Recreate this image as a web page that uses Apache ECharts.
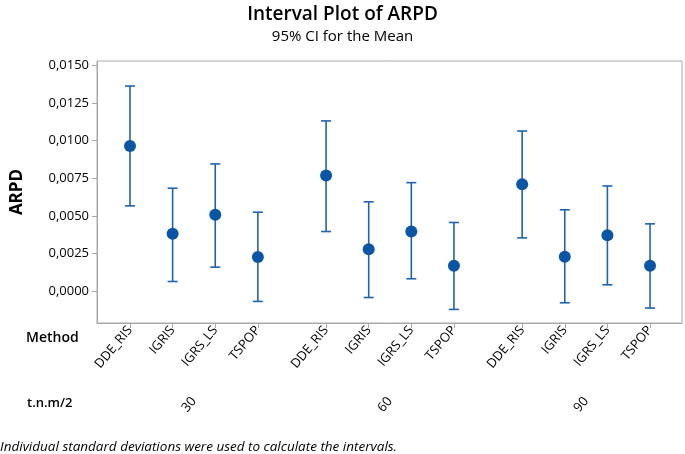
<!DOCTYPE html>
<html>
<head>
<meta charset="utf-8">
<script src="https://cdn.jsdelivr.net/npm/echarts@6/dist/echarts.min.js"></script>
<style>html,body{margin:0;padding:0;background:#fff}#c{width:685px;height:454px}</style>
</head>
<body>
<div id="c"></div>
<script>
// Data
var methods = ['DDE_RIS', 'IGRIS', 'IGRS_LS', 'TSPOP'];
var groups = ['30', '60', '90'];
// x positions of each method/group combination (axis units)
var positions = [0, 5, 10, 15, 23, 28, 33, 38, 46, 51, 56, 61];
var groupCenters = [7.5, 30.5, 53.5];
var means = [0.00964, 0.00382, 0.00508, 0.00228, 0.00768, 0.00280, 0.00397, 0.00170, 0.00711, 0.00230, 0.00373, 0.00170];
var lower = [0.00567, 0.00066, 0.00161, -0.00066, 0.00397, -0.00040, 0.00084, -0.00119, 0.00355, -0.00075, 0.00044, -0.00110];
var upper = [0.01361, 0.00684, 0.00845, 0.00525, 0.01130, 0.00594, 0.00721, 0.00457, 0.01063, 0.00541, 0.00699, 0.00448];
var yTicks = [0, 0.0025, 0.005, 0.0075, 0.01, 0.0125, 0.015];

var labelMap = {};
positions.forEach(function (p, i) { labelMap[p] = methods[i % 4]; });
var groupMap = {};
groupCenters.forEach(function (p, i) { groupMap[p] = groups[i]; });

var FONT = '"Open Sans", "Noto Sans", sans-serif';
var barColor = '#1f63ad';
var dotColor = '#0a56a5';

var chart = echarts.init(document.getElementById('c'), null, { renderer: 'canvas' });
chart.setOption({
  animation: false,
  backgroundColor: '#fff',
  textStyle: { fontFamily: FONT },
  title: [
    { text: 'Interval Plot of ARPD', left: 'center', top: 0,
      textStyle: { fontFamily: FONT, fontSize: 19, fontWeight: 600, color: '#000' } },
    { text: '95% CI for the Mean', left: 'center', top: 24,
      textStyle: { fontFamily: FONT, fontSize: 15, fontWeight: 'normal', color: '#000' } }
  ],
  grid: { left: 97, right: 3, top: 61, bottom: 131, show: true, borderColor: '#a8a8a8', borderWidth: 1, backgroundColor: '#fff' },
  xAxis: [
    {
      type: 'value', min: -3.87, max: 64.75,
      axisLine: { show: true, onZero: false, lineStyle: { color: '#a8a8a8' } },
      splitLine: { show: false },
      axisTick: { show: true, length: 5, lineStyle: { color: '#a8a8a8' }, customValues: positions },
      axisLabel: {
        customValues: positions, rotate: 50, margin: 5,
        fontFamily: FONT, fontSize: 13, color: '#000',
        formatter: function (v) { return labelMap[v] || ''; }
      }
    },
    {
      type: 'value', min: -3.87, max: 64.75, position: 'bottom', offset: 70,
      axisLine: { show: false, onZero: false }, splitLine: { show: false },
      axisTick: { show: false, customValues: groupCenters },
      axisLabel: {
        customValues: groupCenters, rotate: 50, margin: 6,
        fontFamily: FONT, fontSize: 13, color: '#000',
        formatter: function (v) { return groupMap[v] || ''; }
      }
    }
  ],
  yAxis: {
    type: 'value', min: -0.00209, max: 0.01527,
    name: 'ARPD', nameLocation: 'middle', nameGap: 71,
    nameTextStyle: { fontFamily: FONT, fontSize: 17, fontWeight: 'bold', color: '#000' },
    axisLine: { show: true, onZero: false, lineStyle: { color: '#a8a8a8' } },
    splitLine: { show: false },
    axisTick: { show: true, length: 5, lineStyle: { color: '#a8a8a8' }, customValues: yTicks },
    axisLabel: {
      customValues: yTicks, margin: 8,
      fontFamily: FONT, fontSize: 13, color: '#000',
      formatter: function (v) { return v.toFixed(4).replace('.', ','); }
    }
  },
  graphic: [
    { type: 'text', left: 26, top: 331, style: { text: 'Method', font: '600 14px ' + FONT, fill: '#000' } },
    { type: 'text', left: 27, top: 397, style: { text: 't.n.m/2', font: '600 13px ' + FONT, fill: '#000' } },
    { type: 'text', left: 0, top: 440, style: { text: 'Individual standard deviations were used to calculate the intervals.', font: 'italic 13.5px ' + FONT, fill: '#000' } }
  ],
  series: [
    {
      type: 'custom',
      xAxisIndex: 0, yAxisIndex: 0,
      data: positions.map(function (p, i) { return [p, lower[i], upper[i]]; }),
      renderItem: function (params, api) {
        var x = api.value(0);
        var lo = api.coord([x, api.value(1)]);
        var hi = api.coord([x, api.value(2)]);
        var hw = 5;
        var st = { stroke: barColor, lineWidth: 1.6, fill: null };
        return {
          type: 'group',
          children: [
            { type: 'line', shape: { x1: lo[0], y1: lo[1], x2: hi[0], y2: hi[1] }, style: st },
            { type: 'line', shape: { x1: lo[0] - hw, y1: lo[1], x2: lo[0] + hw, y2: lo[1] }, style: st },
            { type: 'line', shape: { x1: hi[0] - hw, y1: hi[1], x2: hi[0] + hw, y2: hi[1] }, style: st }
          ]
        };
      },
      z: 2
    },
    {
      type: 'scatter',
      xAxisIndex: 0, yAxisIndex: 0,
      data: positions.map(function (p, i) { return [p, means[i]]; }),
      symbol: 'circle', symbolSize: 12,
      itemStyle: { color: dotColor, opacity: 1 },
      z: 3
    }
  ]
});
</script>
</body>
</html>
